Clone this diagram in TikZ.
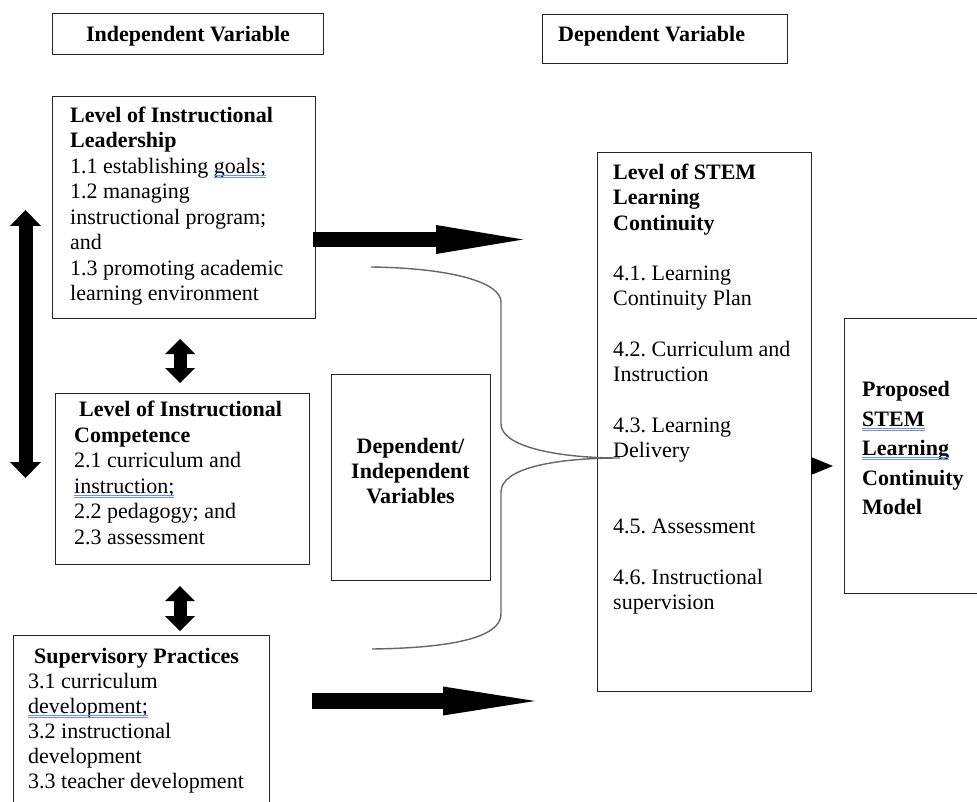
\documentclass[tikz,border=0pt]{standalone}
\usepackage{fontspec}
\setmainfont{Liberation Serif}
\usetikzlibrary{arrows.meta}
\definecolor{splc}{RGB}{110,145,215}
\newsavebox\splbox
\newcommand\spl[1]{\sbox\splbox{#1}\rlap{\usebox\splbox}\textcolor{splc}{\rlap{\rule[-2.6pt]{\wd\splbox}{0.9pt}}\rule[-4.6pt]{\wd\splbox}{0.9pt}}}
\frenchspacing
\begin{document}
\frenchspacing
\begin{tikzpicture}[x=1pt,y=-1pt,
  box/.style={draw=black!85, line width=1.1pt, rectangle, inner sep=0pt, anchor=north west},
  txt/.style={inner sep=0pt, align=left, anchor=base west, font=\fontsize{22}{25.5}\selectfont\frenchspacing},
  hd/.style={inner sep=0pt, align=left, anchor=base west, font=\fontsize{22}{25.5}\selectfont\bfseries},
  dblarrow/.style={line width=14pt, {Triangle[length=16pt,width=31pt,line width=0pt]}-{Triangle[length=16pt,width=31pt,line width=0pt]}},
  smalldbl/.style={line width=13pt, {Triangle[length=15pt,width=30pt,line width=0pt]}-{Triangle[length=15pt,width=30pt,line width=0pt]}},
  brace/.style={draw=black!60, line width=1.4pt}
]
\useasboundingbox (0,0) rectangle (977,802);
\fill[white] (0,0) rectangle (977,802);

% headers
\node[box, minimum width=271pt, minimum height=41pt] (ivbox) at (52,13) {};
\node[hd, anchor=base] (ivtxt) at (188,41.5) {Independent Variable};
\node[box, minimum width=245pt, minimum height=49pt] (dvbox) at (542,14) {};
\node[hd] (dvtxt) at (558,41.5) {Dependent Variable};

% leadership (base anchor = last line baseline)
\node[box, minimum width=263pt, minimum height=222pt] (lead) at (52,96) {};
\node[txt] (leadtxt) at (70,301) {\textbf{Level of Instructional}\\ \textbf{Leadership}\\ 1.1 establishing \spl{goals;}\\ 1.2 managing\\ instructional program;\\ and\\ 1.3 promoting academic\\ learning environment};

% competence
\node[box, minimum width=254pt, minimum height=171pt] (comp) at (55,393) {};
\node[txt] (comptxt) at (74,544) {\hspace{5pt}\textbf{Level of Instructional}\\ \textbf{Competence}\\ 2.1 curriculum and\\ \spl{instruction;}\\ 2.2 pedagogy; and\\ 2.3 assessment};

% dependent / independent
\node[box, minimum width=159pt, minimum height=206pt] (di) at (331,374) {};
\node[hd, align=center, anchor=base, font=\fontsize{22}{25}\selectfont\bfseries] (ditxt) at (410.5,503) {Dependent/\\ Independent\\ Variables};

% supervisory
\node[box, minimum width=256pt, minimum height=190pt] (sup) at (13,635) {};
\node[txt, font=\fontsize{22}{25}\selectfont\frenchspacing] (suptxt) at (28,788.5) {\hspace{6pt}\textbf{Supervisory Practices}\\ 3.1 curriculum\\ \spl{development;}\\ 3.2 instructional\\ development\\ 3.3 teacher development};

% STEM
\node[box, minimum width=214pt, minimum height=539pt] (stem) at (597,152) {};
\node[txt, font=\fontsize{22}{25.3}\selectfont\frenchspacing] (stemtxt) at (613,609.5) {\textbf{Level of STEM}\\ \textbf{Learning}\\ \textbf{Continuity}\\[25.3pt] 4.1. Learning\\ Continuity Plan\\[25.3pt] 4.2. Curriculum and\\ Instruction\\[25.3pt] 4.3. Learning\\ Delivery\\[50.6pt] 4.5. Assessment\\[25.3pt] 4.6. Instructional\\ supervision};

% proposed
\node[box, minimum width=160pt, minimum height=275pt] (prop) at (844,318) {};
\node[hd, font=\fontsize{22}{29.5}\selectfont\bfseries] (proptxt) at (862,514.5) {Proposed\\ \spl{STEM}\\ \spl{Learning}\\ Continuity\\ Model};

% block arrows
\coordinate (a1s) at (313,239.5);
\coordinate (a1e) at (523,239.5);
\draw[line width=15pt, -{Triangle[length=87pt,width=29pt,line width=0pt]}] (a1s) -- (a1e);
\coordinate (a3s) at (312,701);
\coordinate (a3e) at (535,701);
\draw[line width=16pt, -{Triangle[length=92pt,width=29pt,line width=0pt]}] (a3s) -- (a3e);

% double arrows
\coordinate (lt) at (25.5,210);
\coordinate (lb) at (25.5,478);
\draw[dblarrow] (lt) -- (lb);
\coordinate (d1t) at (180,339);
\coordinate (d1b) at (180,383);
\draw[smalldbl] (d1t) -- (d1b);
\coordinate (d2t) at (180,586);
\coordinate (d2b) at (180,631);
\draw[smalldbl] (d2t) -- (d2b);

% small head into proposed
\coordinate (ph) at (833,466);
\draw[line width=0.5pt, -{Triangle[length=22pt,width=18pt,line width=0pt]}] (stem.east |- ph) -- (ph);

% brace
\coordinate (bt) at (371,267);
\coordinate (btip) at (620,458);
\coordinate (bb) at (372,649);
\draw[brace] (bt) .. controls (450,268) and (501,282) .. (501,302) -- (501,424)
  .. controls (501,446) and (555,458) .. (btip)
  .. controls (555,458) and (501,468) .. (501,492) -- (501,614)
  .. controls (501,638) and (450,648) .. (bb);
\end{tikzpicture}
\end{document}
